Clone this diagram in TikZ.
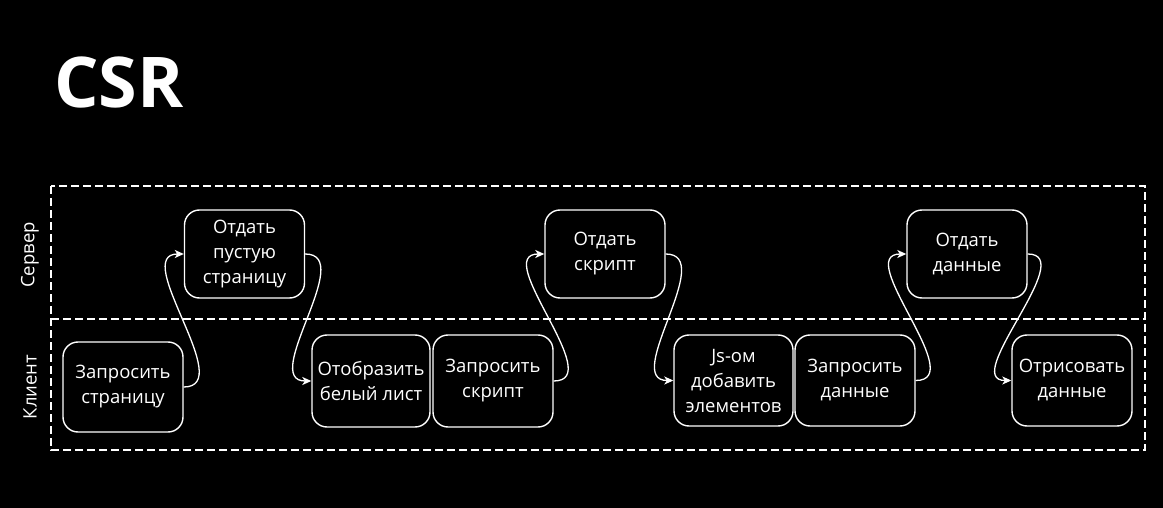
\documentclass[tikz,border=0pt]{standalone}
\usepackage{fontspec}
\setmainfont{Open Sans}
\usetikzlibrary{arrows.meta}
\begin{document}
\begin{tikzpicture}[x=1pt,y=-1pt,
  stepbox/.style={draw=white, line width=1.4pt, rounded corners=15pt,
    minimum width=120pt, minimum height=90pt, align=center, text=white,
    font=\fontsize{18.5}{25}\selectfont, inner sep=2pt},
  flow/.style={draw=white, line width=1.3pt,
    -{Stealth[length=9pt,width=8pt,inset=2.5pt]}},
  lane/.style={draw=white, line width=1.3pt, dash pattern=on 8pt off 4pt},
  lanelabel/.style={rotate=90, text=white, font=\fontsize{18.5}{22}\selectfont}
]
% canvas
\fill[black] (0,0) rectangle (1163,508);
\useasboundingbox (0,0) rectangle (1163,508);

% title
\node[text=white, font=\fontsize{70}{80}\bfseries\selectfont] (title) at (119,82) {CSR};

% swimlanes
\draw[lane] (51,186) rectangle (1145,450);
\draw[lane] (51,319) -- (1145,319);
\node[lanelabel] (server) at (30,255) {Сервер};
\node[lanelabel] (client) at (30,387) {Клиент};

% server lane
\node[stepbox, minimum height=88pt] (giveEmpty)  at (244.5,254) {Отдать\\пустую\\страницу};
\node[stepbox, minimum height=88pt] (giveScript) at (605,254)   {Отдать\\скрипт};
\node[stepbox, minimum height=88pt] (giveData)   at (967,254)   {Отдать\\данные};

% client lane
\node[stepbox] (askPage)   at (123,387)   {Запросить\\страницу};
\node[stepbox, minimum width=118pt, minimum height=92pt] (showBlank) at (371,381) {Отобразить\\белый лист};
\node[stepbox, minimum height=92pt] (askScript) at (493,381) {Запросить\\скрипт};
\node[stepbox, minimum width=119pt, minimum height=91pt] (jsAdd) at (733.5,380.5) {Js-ом\\добавить\\элементов};
\node[stepbox, minimum height=91pt] (askData)  at (855,380.5) {Запросить\\данные};
\node[stepbox, minimum height=91pt] (drawData) at (1072,380.5) {Отрисовать\\данные};

% request / response flow
\draw[flow] (askPage.east)    .. controls +(54,0) and +(-54,0) .. (giveEmpty.west);
\draw[flow] (giveEmpty.east)  .. controls +(52,0) and +(-52,0) .. (showBlank.west);
\draw[flow] (askScript.east)  .. controls +(54,0) and +(-54,0) .. (giveScript.west);
\draw[flow] (giveScript.east) .. controls +(52,0) and +(-52,0) .. (jsAdd.west);
\draw[flow] (askData.east)    .. controls +(54,0) and +(-54,0) .. (giveData.west);
\draw[flow] (giveData.east)   .. controls +(52,0) and +(-52,0) .. (drawData.west);
\end{tikzpicture}
\end{document}
